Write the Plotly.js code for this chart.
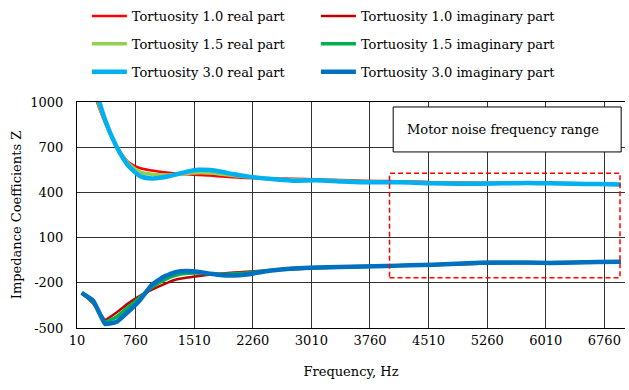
<!DOCTYPE html>
<html>
<head>
<meta charset="utf-8">
<script src="https://cdn.plot.ly/plotly-3.0.1.min.js"></script>
<style>
  html, body { margin: 0; padding: 0; background: #fff; }
  #chart { width: 629px; height: 390px; }
</style>
</head>
<body>
<div id="chart"></div>
<script>
// Frequencies (Hz) at which the impedance was evaluated
const frequency = [70, 220, 370, 520, 670, 820, 970, 1120, 1270, 1420, 1570, 1720, 1870, 2020, 2170,
  2470, 2770, 3070, 3370, 3670, 3970, 4270, 4570, 4870, 5170, 5470, 5770, 6070, 6370, 6670, 6970];

// Real part of the impedance coefficient
const real10 = [1700, 1080, 860, 700, 600, 560, 545, 533, 525, 520, 515, 512, 505, 500, 496,
  493, 490, 487, 482, 478, 475, 472, 468, 466, 464, 464, 463, 461, 458, 456, 453];
const real15 = [1750, 1110, 870, 700, 590, 535, 520, 515, 520, 527, 530, 528, 520, 512, 503,
  490, 484, 482, 477, 472, 470, 468, 463, 461, 460, 461, 462, 460, 458, 455, 453];
const real30 = [1800, 1150, 880, 700, 575, 508, 493, 500, 518, 538, 550, 548, 535, 520, 508,
  490, 478, 480, 473, 467, 467, 466, 460, 458, 458, 460, 462, 460, 458, 455, 453];

// Imaginary part of the impedance coefficient
const imag10 = [-267, -340, -445, -395, -335, -285, -245, -210, -180, -165, -155, -145, -138, -132, -127,
  -118, -110, -103, -98, -93, -89, -85, -81, -77, -73, -70, -68, -66, -64, -62, -60];
const imag15 = [-267, -330, -460, -425, -360, -295, -228, -182, -150, -137, -135, -140, -143, -140, -135,
  -118, -107, -100, -96, -92, -88, -84, -80, -75, -70, -67, -67, -67, -65, -62, -60];
const imag30 = [-267, -320, -473, -458, -390, -312, -212, -160, -130, -122, -128, -140, -150, -152, -145,
  -120, -105, -98, -95, -92, -88, -84, -80, -73, -67, -65, -66, -68, -66, -62, -60];

// Tick labels
const xTicks = [10, 760, 1510, 2260, 3010, 3760, 4510, 5260, 6010, 6760];
const yTicks = [-500, -200, 100, 400, 700, 1000];

// Motor noise band
const noiseBand = { f0: 4010, f1: 6960, z0: -167, z1: 527 };

const serif = 'DejaVu Serif';

function series(name, y, color, width, legend, smoothing) {
  return {
    type: 'scatter', mode: 'lines', name: name,
    x: frequency, y: y,
    line: { color: color, width: width, shape: 'spline', smoothing: smoothing },
    legend: legend, legendgroup: name
  };
}

const traces = [
  series('Tortuosity 1.0 real part', real10, '#FF0000', 2.5, 'legend', 0.6),
  series('Tortuosity 1.5 real part', real15, '#92D050', 3.5, 'legend', 0.6),
  series('Tortuosity 3.0 real part', real30, '#00B0F0', 4.5, 'legend', 0.6),
  series('Tortuosity 1.0 imaginary part', imag10, '#C00000', 2.5, 'legend2', 0.3),
  series('Tortuosity 1.5 imaginary part', imag15, '#00B050', 3.5, 'legend2', 0.3),
  series('Tortuosity 3.0 imaginary part', imag30, '#0070C0', 4.5, 'legend2', 0.3)
];

const legendStyle = {
  orientation: 'v', yanchor: 'top', xanchor: 'left',
  font: { family: serif, size: 13, color: '#000' },
  bgcolor: 'rgba(0,0,0,0)', tracegroupgap: 8, itemwidth: 35
};

const layout = {
  width: 629, height: 390,
  margin: { l: 77, r: 4, t: 102, b: 62, autoexpand: false },
  paper_bgcolor: '#fff', plot_bgcolor: '#fff',
  font: { family: serif, size: 13, color: '#000' },
  showlegend: true,
  legend: Object.assign({ x: 0.018, y: 1.447 }, legendStyle),
  legend2: Object.assign({ x: 0.436, y: 1.447 }, legendStyle),
  xaxis: {
    range: [10, 7024], tickvals: xTicks, ticktext: xTicks.map(String),
    showgrid: true, gridcolor: '#333', gridwidth: 1,
    showline: true, linecolor: '#000', linewidth: 1, mirror: true,
    ticks: '', zeroline: false,
    tickfont: { family: serif, size: 13 },
    title: { text: 'Frequency, Hz', font: { family: serif, size: 13 }, standoff: 20 }
  },
  yaxis: {
    range: [-500, 1000], tickvals: yTicks, ticktext: yTicks.map(String),
    showgrid: true, gridcolor: '#333', gridwidth: 1,
    showline: true, linecolor: '#000', linewidth: 1,
    ticks: '', zeroline: false, ticklabelstandoff: 10,
    tickfont: { family: serif, size: 13 },
    title: { text: 'Impedance Coefficients Z', font: { family: serif, size: 13 }, standoff: 5 }
  },
  shapes: [
    {
      type: 'rect', xref: 'x', yref: 'y',
      x0: noiseBand.f0, x1: noiseBand.f1, y0: noiseBand.z0, y1: noiseBand.z1,
      line: { color: '#FF0000', width: 1.5, dash: '5px,3px' }, fillcolor: 'rgba(0,0,0,0)'
    },
    {
      type: 'rect', xref: 'paper', yref: 'paper',
      x0: 0.577, x1: 0.993, y0: 0.779, y1: 0.978,
      line: { color: '#000', width: 1 }, fillcolor: '#fff'
    }
  ],
  annotations: [
    {
      xref: 'paper', yref: 'paper', x: 0.599, y: 0.88, xanchor: 'left', yanchor: 'middle',
      text: 'Motor noise frequency range', showarrow: false,
      font: { family: serif, size: 13, color: '#000' }
    }
  ]
};

Plotly.newPlot('chart', traces, layout, { displayModeBar: false, staticPlot: true });
</script>
</body>
</html>
